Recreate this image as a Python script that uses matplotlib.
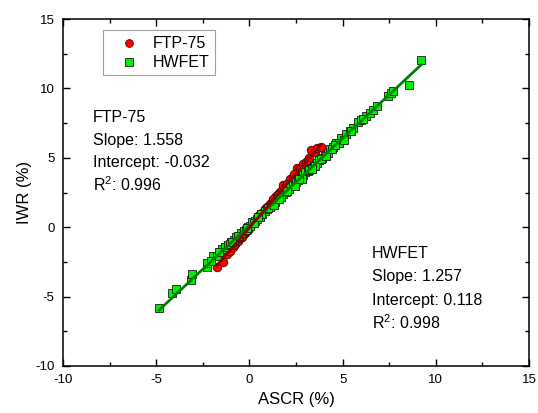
import matplotlib
matplotlib.use("Agg")
import matplotlib.pyplot as plt
import numpy as np
from matplotlib.ticker import MultipleLocator

plt.rcParams['font.family'] = ['Liberation Sans', 'DejaVu Sans']
plt.rcParams['axes.unicode_minus'] = False
plt.rcParams['mathtext.fontset'] = 'custom'
plt.rcParams['mathtext.rm'] = 'Liberation Sans'
plt.rcParams['mathtext.it'] = 'Liberation Sans'
plt.rcParams['mathtext.bf'] = 'Liberation Sans'

# HWFET data
hw_x = [-4.85, -4.17, -3.96, -3.15, -3.10, -2.30, -2.30, -1.97, -1.75, -1.49, -1.30, -1.15,
        -1.00, -0.85, -0.70, -0.55, -0.45, -0.30, -0.20, -0.05, 0.05, 0.15, 0.30, 0.40,
        0.55, 0.70, 0.85, 0.95, 1.10, 1.25, 1.40, 1.50, 1.65, 1.80, 1.95, 2.10, 2.20, 2.35,
        2.50, 2.60, 2.75, 2.90, 3.00, 3.15, 3.30, 3.45, 3.60, 3.75, 3.90, 4.05, 4.20, 4.32,
        4.50, 4.67, 4.94, 5.20, 5.39, 5.55, 5.83, 6.00, 6.28, 6.45, 6.64, 7.44, 7.62, 7.70,
        8.57, 9.23,
        -1.62, -1.05, -0.62, -0.12, 0.22, 0.62, 1.02, 1.32, 1.72, 2.02, 2.42, 2.82, 3.22,
        3.52, 3.82, 4.12, 4.42, 4.82, 5.05, 5.45, 6.10, 6.85, -2.05, -0.92, 0.48, 1.58, 2.68,
        3.38, 4.60]
hw_y = [-5.85, -4.72, -4.45, -3.80, -3.37, -2.90, -2.56, -2.05, -2.10, -1.55, -1.45, -1.25,
        -1.05, -0.95, -0.70, -0.62, -0.40, -0.30, -0.18, 0.02, 0.12, 0.35, 0.45, 0.62,
        0.72, 0.98, 1.15, 1.30, 1.45, 1.68, 1.85, 2.02, 2.15, 2.42, 2.55, 2.72, 2.95, 3.05,
        3.25, 3.42, 3.55, 3.78, 3.95, 4.02, 4.28, 4.45, 4.62, 4.85, 5.00, 5.22, 5.35, 5.61,
        5.80, 6.05, 6.45, 6.70, 6.95, 7.15, 7.55, 7.70, 8.00, 8.20, 8.45, 9.45, 9.70, 9.82,
        10.25, 12.05,
        -1.78, -1.22, -0.60, -0.08, 0.28, 0.95, 1.35, 1.62, 2.20, 2.62, 3.00, 3.48, 4.10,
        4.38, 4.92, 5.15, 5.62, 6.08, 6.30, 6.92, 7.82, 8.70, -2.40, -1.05, 0.75, 2.05, 3.50,
        4.20, 5.95]

# FTP-75 data
ftp_x = [-1.73, -1.44, -1.20, -1.05, -0.90, -0.75, -0.60, -0.50, -0.35, -0.25, -0.10, 0.00,
         0.10, 0.20, 0.35, 0.45, 0.60, 0.70, 0.85, 0.95, 1.10, 1.20, 1.35, 1.45, 1.60, 1.70,
         1.81, 1.95, 2.10, 2.20, 2.35, 2.45, 2.53, 2.65, 2.80, 2.90, 3.05, 3.20, 3.33, 3.50,
         3.65, 3.83,
         -0.82, -0.42, 0.05, 0.52, 0.90, 1.28, 1.52, 2.02, 2.40, 2.72, 3.12]
ftp_y = [-2.89, -2.48, -1.95, -1.70, -1.45, -1.22, -1.00, -0.80, -0.55, -0.45, -0.20, -0.05,
         0.15, 0.28, 0.52, 0.68, 0.90, 1.05, 1.30, 1.45, 1.68, 1.85, 2.05, 2.25, 2.45, 2.60,
         3.04, 3.00, 3.25, 3.45, 3.62, 3.78, 4.24, 4.10, 4.35, 4.55, 4.72, 4.95, 5.56, 5.40,
         5.68, 5.80,
         -1.25, -0.72, 0.02, 0.85, 1.35, 2.00, 2.30, 3.10, 3.80, 4.20, 4.80]

ftp_slope, ftp_int, ftp_r2 = 1.558, -0.032, 0.996
hw_slope, hw_int, hw_r2 = 1.257, 0.118, 0.998

fig = plt.figure(figsize=(5.38, 4.13), dpi=100)
ax = fig.add_axes([63/538, 1-366/413, (529-63)/538, (366-19)/413])

ax.scatter(ftp_x, ftp_y, marker='o', s=38, facecolor='#ff0000', edgecolor='#4a0000',
           linewidths=0.6, zorder=3, label='FTP-75')
ax.scatter(hw_x, hw_y, marker='s', s=32, facecolor='#00ee00', edgecolor='#1a1a1a',
           linewidths=0.6, zorder=3, label='HWFET')

xh = np.array([min(hw_x), max(hw_x)])
ax.plot(xh, hw_slope*xh + hw_int, color='#008000', lw=2, zorder=4)
xf = np.array([min(ftp_x), max(ftp_x)])
ax.plot(xf, ftp_slope*xf + ftp_int, color='#8b0000', lw=2, zorder=4)

ax.set_xlim(-10, 15)
ax.set_ylim(-10, 15)
ax.xaxis.set_major_locator(MultipleLocator(5))
ax.yaxis.set_major_locator(MultipleLocator(5))
ax.xaxis.set_minor_locator(MultipleLocator(2.5))
ax.yaxis.set_minor_locator(MultipleLocator(2.5))
ax.tick_params(which='both', direction='in', top=True, right=True, labelsize=9.5, width=1)
ax.tick_params(which='major', length=5, pad=6)
ax.tick_params(which='minor', length=3)
for s in ax.spines.values():
    s.set_linewidth(1.1)

ax.set_xlabel('ASCR (%)', fontsize=12, labelpad=4)
ax.set_ylabel('IWR (%)', fontsize=12, labelpad=2.5)

leg = ax.legend(loc='upper left', bbox_to_anchor=((103-63)/466, 1 - (30-19)/347),
                bbox_transform=ax.transAxes, fontsize=11.5, frameon=True, fancybox=False,
                edgecolor='#888888', handletextpad=0.15, borderpad=0.35, labelspacing=0.25,
                handlelength=2.6, borderaxespad=0, markerscale=0.9)
leg.get_frame().set_linewidth(0.8)

def block(x_px, ys_px, lines):
    for yp, t in zip(ys_px, lines):
        fig.text(x_px/538, 1 - yp/413, t, fontsize=11.5, va='center', ha='left')

block(93, [118, 141, 162, 185],
      ['FTP-75', f'Slope: {ftp_slope:.3f}', f'Intercept: {ftp_int:.3f}', f'R$^{{2}}$: {ftp_r2:.3f}'])
block(372, [254, 277, 300, 323],
      ['HWFET', f'Slope: {hw_slope:.3f}', f'Intercept: {hw_int:.3f}', f'R$^{{2}}$: {hw_r2:.3f}'])

fig.savefig('out.png', dpi=100)
